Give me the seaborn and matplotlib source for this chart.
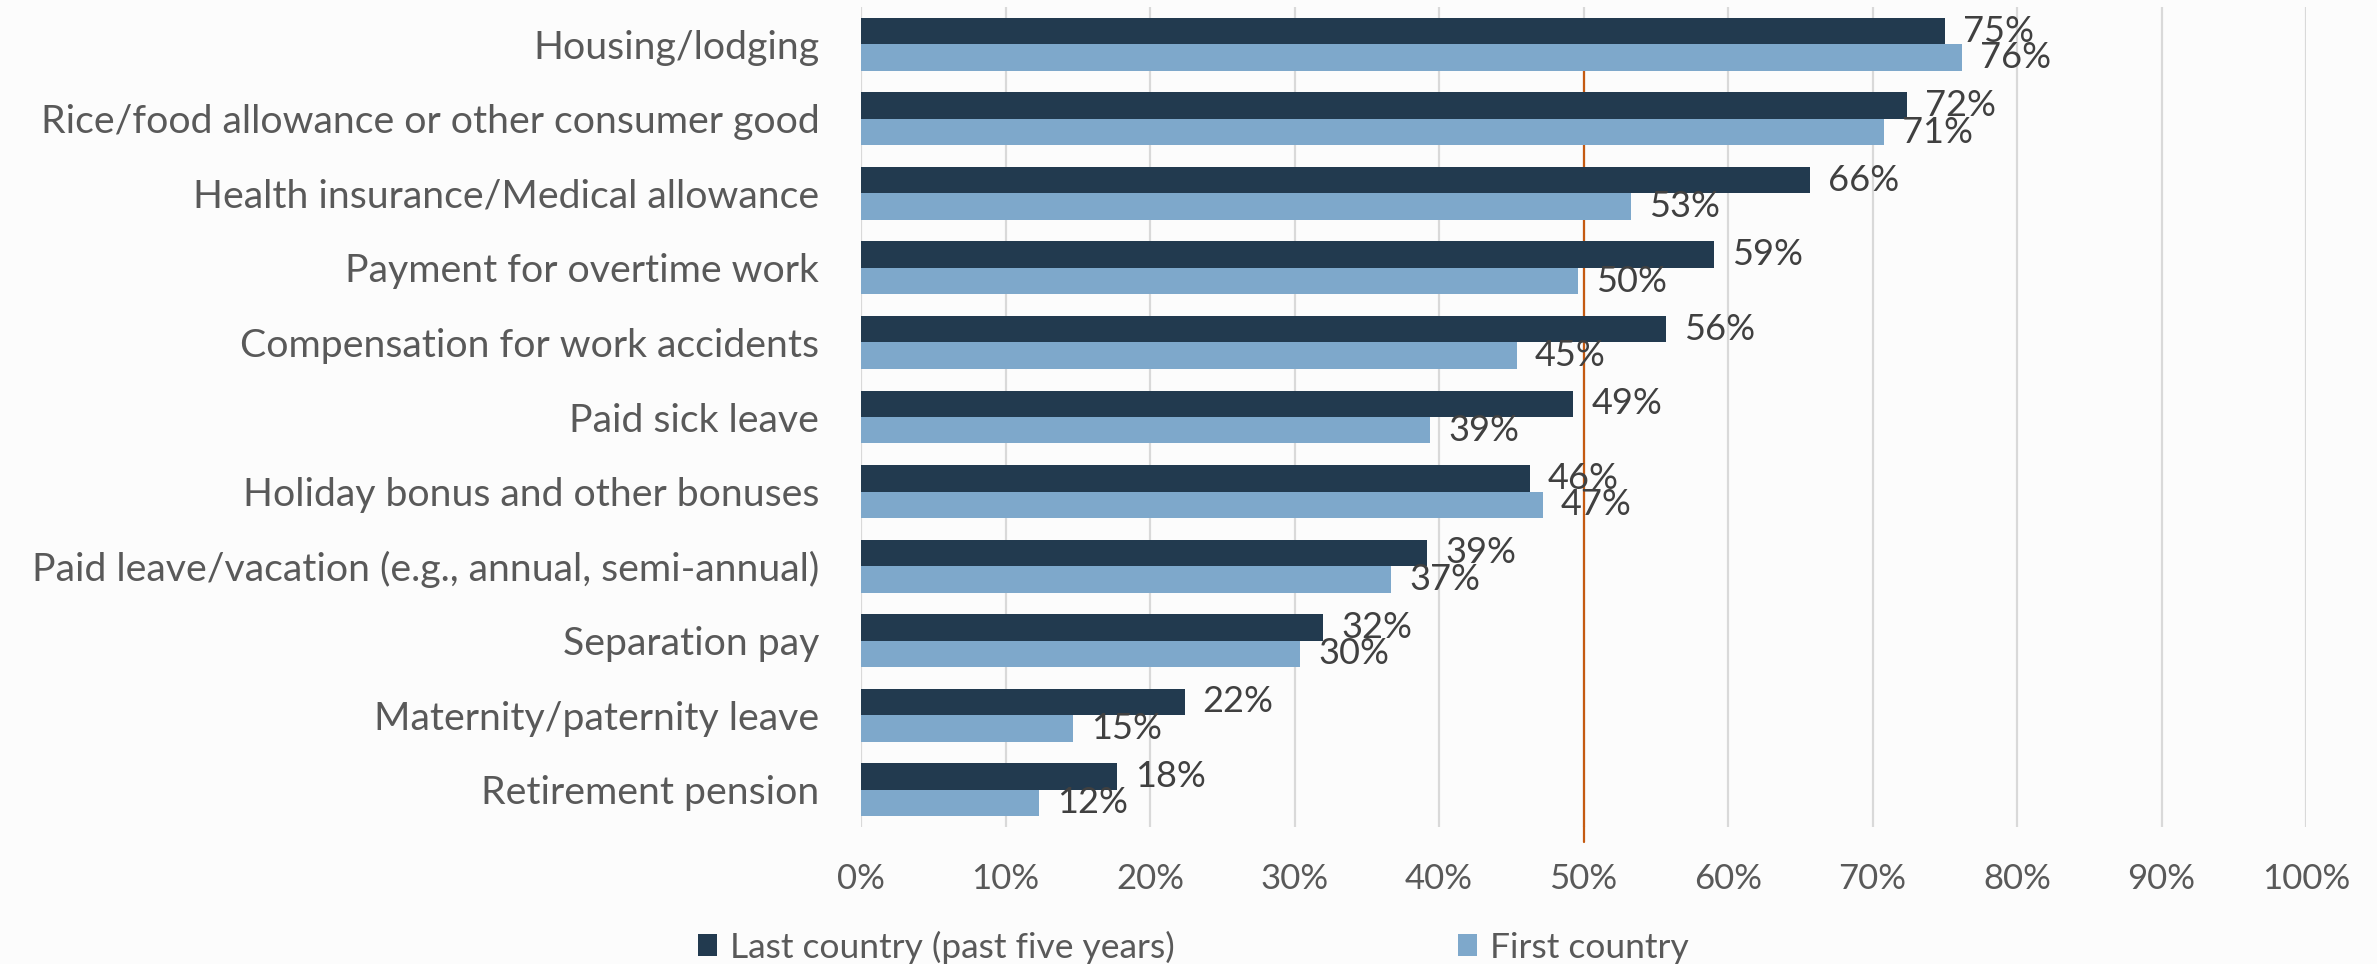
import matplotlib
matplotlib.use("Agg")
import matplotlib.pyplot as plt
from matplotlib.patches import Patch
import pandas as pd
import seaborn as sns

# Benefits received, share of respondents (%)
categories = [
    "Housing/lodging",
    "Rice/food allowance or other consumer good",
    "Health insurance/Medical allowance",
    "Payment for overtime work",
    "Compensation for work accidents",
    "Paid sick leave",
    "Holiday bonus and other bonuses",
    "Paid leave/vacation (e.g., annual, semi-annual)",
    "Separation pay",
    "Maternity/paternity leave",
    "Retirement pension",
]
last_country = [75.0, 72.4, 65.7, 59.0, 55.7, 49.3, 46.3, 39.2, 32.0, 22.4, 17.7]
first_country = [76.2, 70.8, 53.3, 49.6, 45.4, 39.4, 47.2, 36.7, 30.4, 14.7, 12.3]
series_names = ["Last country (past five years)", "First country"]
x_ticks = list(range(0, 101, 10))
reference_line = 50

DARK = "#223A4F"
LIGHT = "#7EA8CB"
ORANGE = "#C55A11"
BG = "#FCFCFC"

df = pd.DataFrame({
    "category": categories * 2,
    "value": last_country + first_country,
    "series": [series_names[0]] * len(categories) + [series_names[1]] * len(categories),
})

sns.set_theme(style="white")
plt.rcParams["font.family"] = ["Lato", "DejaVu Sans"]

fig = plt.figure(figsize=(23.77, 9.64), dpi=100, facecolor=BG)
ax = fig.add_axes([861 / 2377, 1 - 827 / 964, (2306 - 861) / 2377, 820 / 964])
ax.set_facecolor(BG)

sns.barplot(
    data=df, x="value", y="category", hue="series", order=categories,
    hue_order=series_names, palette=[DARK, LIGHT], width=0.71,
    orient="h", linewidth=0, saturation=1, ax=ax, legend=False, zorder=3,
)
ax.set_ylim(10.5, -0.5)

# 50% reference line, running a little below the axis
ax.plot([reference_line, reference_line], [10.5, 0.1], color=ORANGE, lw=1.6, zorder=2)
ax.plot([reference_line, reference_line], [0, -0.018], color=ORANGE, lw=1.6,
        transform=ax.get_xaxis_transform(), zorder=2, clip_on=False)

for container, vals in zip(ax.containers, [last_country, first_country]):
    ax.bar_label(container, labels=[f"{v:.0f}%" for v in vals], padding=13,
                 fontsize=26, color="#404040", zorder=4)

ax.set_xlim(0, 100)
ax.set_xticks(x_ticks)
ax.set_xticklabels([f"{t}%" for t in x_ticks])
ax.grid(axis="x", color="#D9D9D9", lw=1.6, zorder=0)
ax.grid(axis="y", visible=False)
ax.set_axisbelow(True)
for s in ax.spines.values():
    s.set_visible(False)
ax.tick_params(axis="x", length=0, pad=26, labelsize=25, labelcolor="#595959")
ax.tick_params(axis="y", length=0, pad=30, labelsize=28.3, labelcolor="#595959")
ax.set_xlabel("")
ax.set_ylabel("")

handles = [Patch(facecolor=DARK, edgecolor="none"), Patch(facecolor=LIGHT, edgecolor="none")]
fig.legend(
    handles, series_names, loc="center left",
    bbox_to_anchor=(698 / 2377, 1 - 947 / 964), bbox_transform=fig.transFigure,
    ncol=2, frameon=False, fontsize=25.5, labelcolor="#595959",
    handlelength=0.55, handleheight=0.55, handletextpad=0.35,
    columnspacing=8.0, borderpad=0, borderaxespad=0,
)

fig.savefig("out.png", dpi=100, facecolor=BG)
